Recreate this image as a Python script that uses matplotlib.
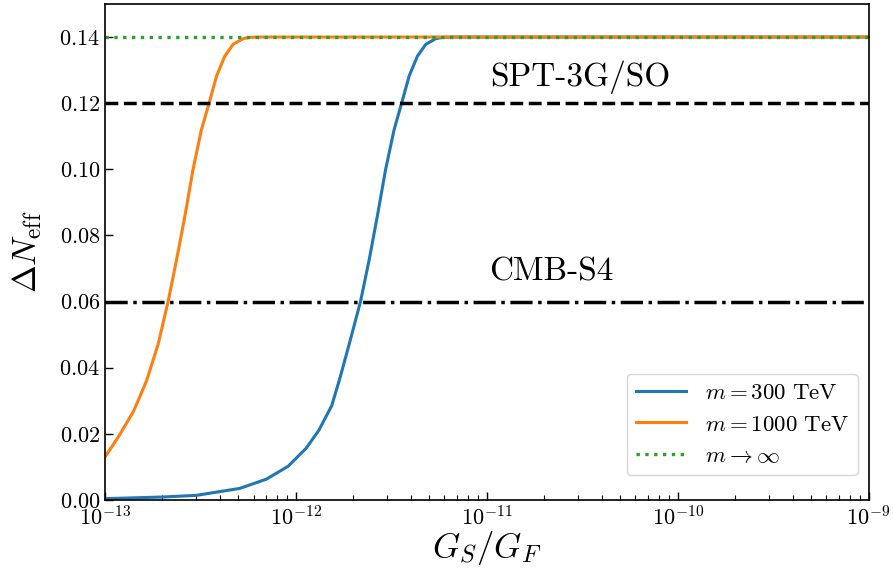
import matplotlib
matplotlib.use("Agg")
import matplotlib.pyplot as plt
from matplotlib.ticker import FuncFormatter, LogLocator, MultipleLocator

plt.rcParams['mathtext.fontset'] = 'cm'
plt.rcParams['font.family'] = 'serif'
plt.rcParams['font.serif'] = ['cmr10']
plt.rcParams['axes.formatter.use_mathtext'] = True
plt.rcParams['axes.unicode_minus'] = False

# m = 300 TeV
x_300 = [1.0e-13, 2.01e-13, 3.01e-13, 5.08e-13, 7.01e-13, 9.11e-13, 1.13e-12, 1.32e-12,
         1.54e-12, 1.70e-12, 1.92e-12, 2.18e-12, 2.42e-12, 2.67e-12, 2.95e-12,
         3.27e-12, 3.58e-12, 3.92e-12, 4.33e-12, 4.79e-12, 5.40e-12, 5.86e-12,
         6.6e-12, 1e-11, 1e-10, 1e-9]
y_300 = [0.0004, 0.0009, 0.0014, 0.0035, 0.0063, 0.0102, 0.0156, 0.0211,
         0.0285, 0.0368, 0.0480, 0.060, 0.0726, 0.0858, 0.0999,
         0.112, 0.120, 0.1282, 0.1342, 0.1378, 0.1395, 0.1399,
         0.140, 0.140, 0.140, 0.140]

# m = 1000 TeV
x_1000 = [1.0e-13, 1.19e-13, 1.41e-13, 1.65e-13, 1.90e-13, 2.14e-13, 2.37e-13,
          2.62e-13, 2.89e-13, 3.20e-13, 3.51e-13, 3.84e-13, 4.24e-13, 4.69e-13,
          5.29e-13, 5.74e-13, 6.5e-13, 1e-12, 1e-11, 1e-10, 1e-9]
y_1000 = [0.0130, 0.0196, 0.0268, 0.0360, 0.0472, 0.060, 0.0726,
          0.0858, 0.0999, 0.112, 0.120, 0.1282, 0.1342, 0.1378,
          0.1395, 0.1399, 0.140, 0.140, 0.140, 0.140, 0.140]

# m -> infinity
x_inf = [1e-13, 1e-9]
y_inf = [0.14, 0.14]

spt_level = 0.12
cmb_level = 0.06

fig = plt.figure(figsize=(8.93, 5.69), dpi=100)
ax = fig.add_axes([0.1176, 0.1213, 0.855, 0.8717])

ax.plot(x_300, y_300, color='#1f77b4', lw=2.2, label=r'$m=300\ \mathrm{TeV}$')
ax.plot(x_1000, y_1000, color='#ff7f0e', lw=2.2, label=r'$m=1000\ \mathrm{TeV}$')
ax.plot(x_inf, y_inf, color='#2ca02c', lw=2.4, ls=':', label=r'$m\rightarrow\infty$')
ax.axhline(spt_level, color='k', lw=2.5, ls='--')
ax.axhline(cmb_level, color='k', lw=2.5, ls='-.')

ax.text(3.1e-11, 0.1278, 'SPT-3G/SO', fontsize=24, ha='center', va='center')
ax.text(2.19e-11, 0.0688, 'CMB-S4', fontsize=24, ha='center', va='center')

ax.set_xscale('log')
ax.set_xlim(1e-13, 1e-9)
ax.set_ylim(0, 0.15)
ax.yaxis.set_major_locator(MultipleLocator(0.02))
ax.yaxis.set_major_formatter(FuncFormatter(lambda v, p: r'$%.2f$' % v))
ax.xaxis.set_major_locator(LogLocator(base=10, numticks=10))
ax.xaxis.set_minor_locator(LogLocator(base=10, subs=range(2, 10), numticks=20))

ax.tick_params(axis='both', which='major', direction='in', length=6, width=1,
               labelsize=16, top=False, right=False)
ax.tick_params(axis='both', which='minor', direction='in', length=3.5, width=0.8,
               top=False, right=False)
for s in ax.spines.values():
    s.set_linewidth(1.2)

ax.set_xlabel(r'$G_S/G_F$', fontsize=25, labelpad=0)
ax.set_ylabel(r'$\Delta N_{\rm eff}$', fontsize=24, labelpad=11)

ax.legend(loc='lower right', fontsize=16.5, handlelength=2.2,
          borderaxespad=0, bbox_to_anchor=(0.986, 0.05))

fig.savefig('out.png', dpi=100)
